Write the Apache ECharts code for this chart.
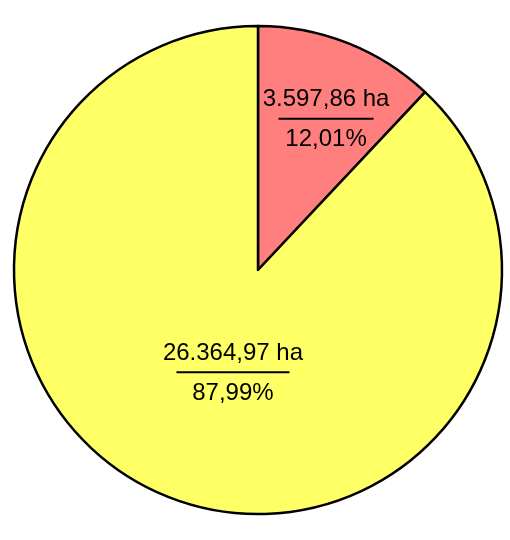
<!DOCTYPE html>
<html>
<head>
<meta charset="utf-8">
<script src="https://cdn.jsdelivr.net/npm/echarts@6/dist/echarts.min.js"></script>
<style>html,body{margin:0;padding:0;background:#fff}#c{width:510px;height:540px}</style>
</head>
<body>
<div id="c"></div>
<script>
var categories = ['A', 'B'];
var areas = [3597.86, 26364.97];
var colors = ['#FF7F7F', '#FFFF66'];
var ruleWidths = [95, 113];
var labelShift = [[22, -33], [21, -12]];

function fmt(v) {
  var s = v.toFixed(2).split('.');
  var i = s[0].replace(/\B(?=(\d{3})+(?!\d))/g, '.');
  return i + ',' + s[1];
}
var total = areas.reduce(function (a, b) { return a + b; }, 0);
var FONT = 'Liberation Sans, Arial, sans-serif';

function richFor(k) {
  return {
    a: { fontSize: 24, lineHeight: 34, color: '#000', fontFamily: FONT, align: 'center' },
    hr: { width: ruleWidths[k], height: 2, backgroundColor: '#000', lineHeight: 4, align: 'center' },
    b: { fontSize: 24, lineHeight: 38, color: '#000', fontFamily: FONT, align: 'center' }
  };
}

var data = areas.map(function (v, k) {
  return {
    name: categories[k],
    value: v,
    itemStyle: { color: colors[k] },
    label: { rich: richFor(k) }
  };
});

var chart = echarts.init(document.getElementById('c'), null, { renderer: 'canvas' });
chart.setOption({
  backgroundColor: '#fff',
  animation: false,
  series: [{
    type: 'pie',
    center: [258, 270],
    radius: 244,
    startAngle: 90,
    clockwise: true,
    data: data,
    itemStyle: { borderColor: '#000', borderWidth: 2.5 },
    emphasis: { disabled: true },
    label: {
      show: true,
      position: 'inside',
      color: '#000',
      fontFamily: FONT,
      fontSize: 24,
      align: 'center',
      formatter: function (p) {
        var pct = (p.value / total * 100).toFixed(2).replace('.', ',');
        return '{a|' + fmt(p.value) + ' ha}\n{hr|}\n{b|' + pct + '%}';
      }
    },
    labelLine: { show: false },
    labelLayout: function (p) {
      var s = labelShift[p.dataIndex];
      return { dx: s[0], dy: s[1] };
    }
  }]
});
</script>
</body>
</html>
